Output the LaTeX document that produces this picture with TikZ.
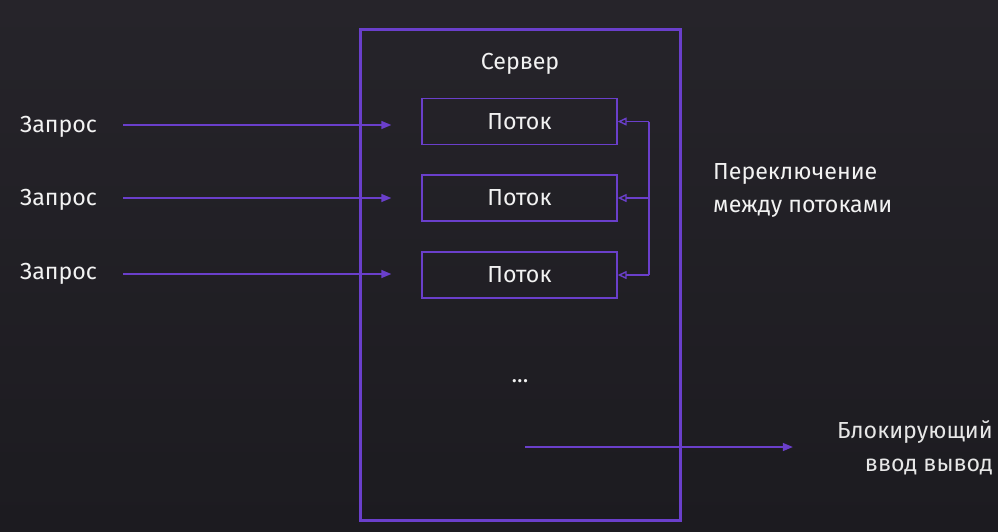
\documentclass[tikz,border=0pt]{standalone}
\usepackage{fontspec}
\setmainfont{Fira Sans}
\usetikzlibrary{arrows.meta}
\definecolor{bgtop}{HTML}{26242A}
\definecolor{bgbot}{HTML}{1C1B20}
\definecolor{purp}{HTML}{6A3FCB}
\definecolor{txt}{HTML}{F2F2F2}
\begin{document}
\begin{tikzpicture}[x=1pt,y=-1pt,
  lbl/.style={inner sep=0pt,text=txt,font=\fontsize{23.2}{33}\selectfont},
  thread/.style={draw=purp,line width=1.4pt,minimum width=195pt,minimum height=46pt,inner sep=0pt,text=txt,font=\fontsize{23.2}{26}\selectfont},
  server/.style={draw=purp,line width=3pt,minimum width=320pt,minimum height=491pt,inner sep=0pt},
  reqarrow/.style={draw=purp,line width=1.4pt,-{Triangle[length=10pt,width=8pt]}},
  swarrow/.style={draw=purp,line width=1.4pt,-{Triangle[open,length=9pt,width=8pt]}},
  conn/.style={draw=purp,line width=1.4pt}]
\shade[top color=bgtop,bottom color=bgbot] (0,0) rectangle (998,531);
\useasboundingbox (0,0) rectangle (998,531);
\node[server] (srv) at (520,274.5) {};
\node[lbl] (srvl) at (520,64) {Сервер};
\node[thread] (t1) at (519.5,121.5) {Поток};
\node[thread] (t2) at (519.5,198) {Поток};
\node[thread] (t3) at (519.5,275) {Поток};
\node[lbl,anchor=west] (r1) at (20,127) {Запрос};
\node[lbl,anchor=west] (r2) at (20,200) {Запрос};
\node[lbl,anchor=west] (r3) at (20,274) {Запрос};
\coordinate (a1) at (20,125);
\coordinate (a2) at (20,198);
\coordinate (a3) at (20,274);
\draw[reqarrow,shorten <=26pt,shorten >=30pt] (a1 -| r1.east) -- (a1 -| t1.west);
\draw[reqarrow,shorten <=26pt,shorten >=30pt] (a2 -| r2.east) -- (a2 -| t2.west);
\draw[reqarrow,shorten <=26pt,shorten >=30pt] (a3 -| r3.east) -- (a3 -| t3.west);
\coordinate (b1) at (649,121.5);
\coordinate (b2) at (649,198);
\coordinate (b3) at (649,275);
\draw[conn] (b1) -- (b3);
\draw[swarrow] (b1) -- (t1.east);
\draw[swarrow] (b2) -- (t2.east);
\draw[swarrow] (b3) -- (t3.east);
\node[lbl,anchor=west,align=left] (sw) at (713,190.5) {Переключение\\между потоками};
\node[lbl] (dots) at (520,381) {...};
\node[lbl,anchor=east,align=right,text=txt!90!gray] (io) at (993,448) {Блокирующий\\ввод вывод};
\coordinate (ios) at (525,447);
\draw[reqarrow,shorten >=44pt] (ios) -- (ios -| io.west);
\end{tikzpicture}
\end{document}
